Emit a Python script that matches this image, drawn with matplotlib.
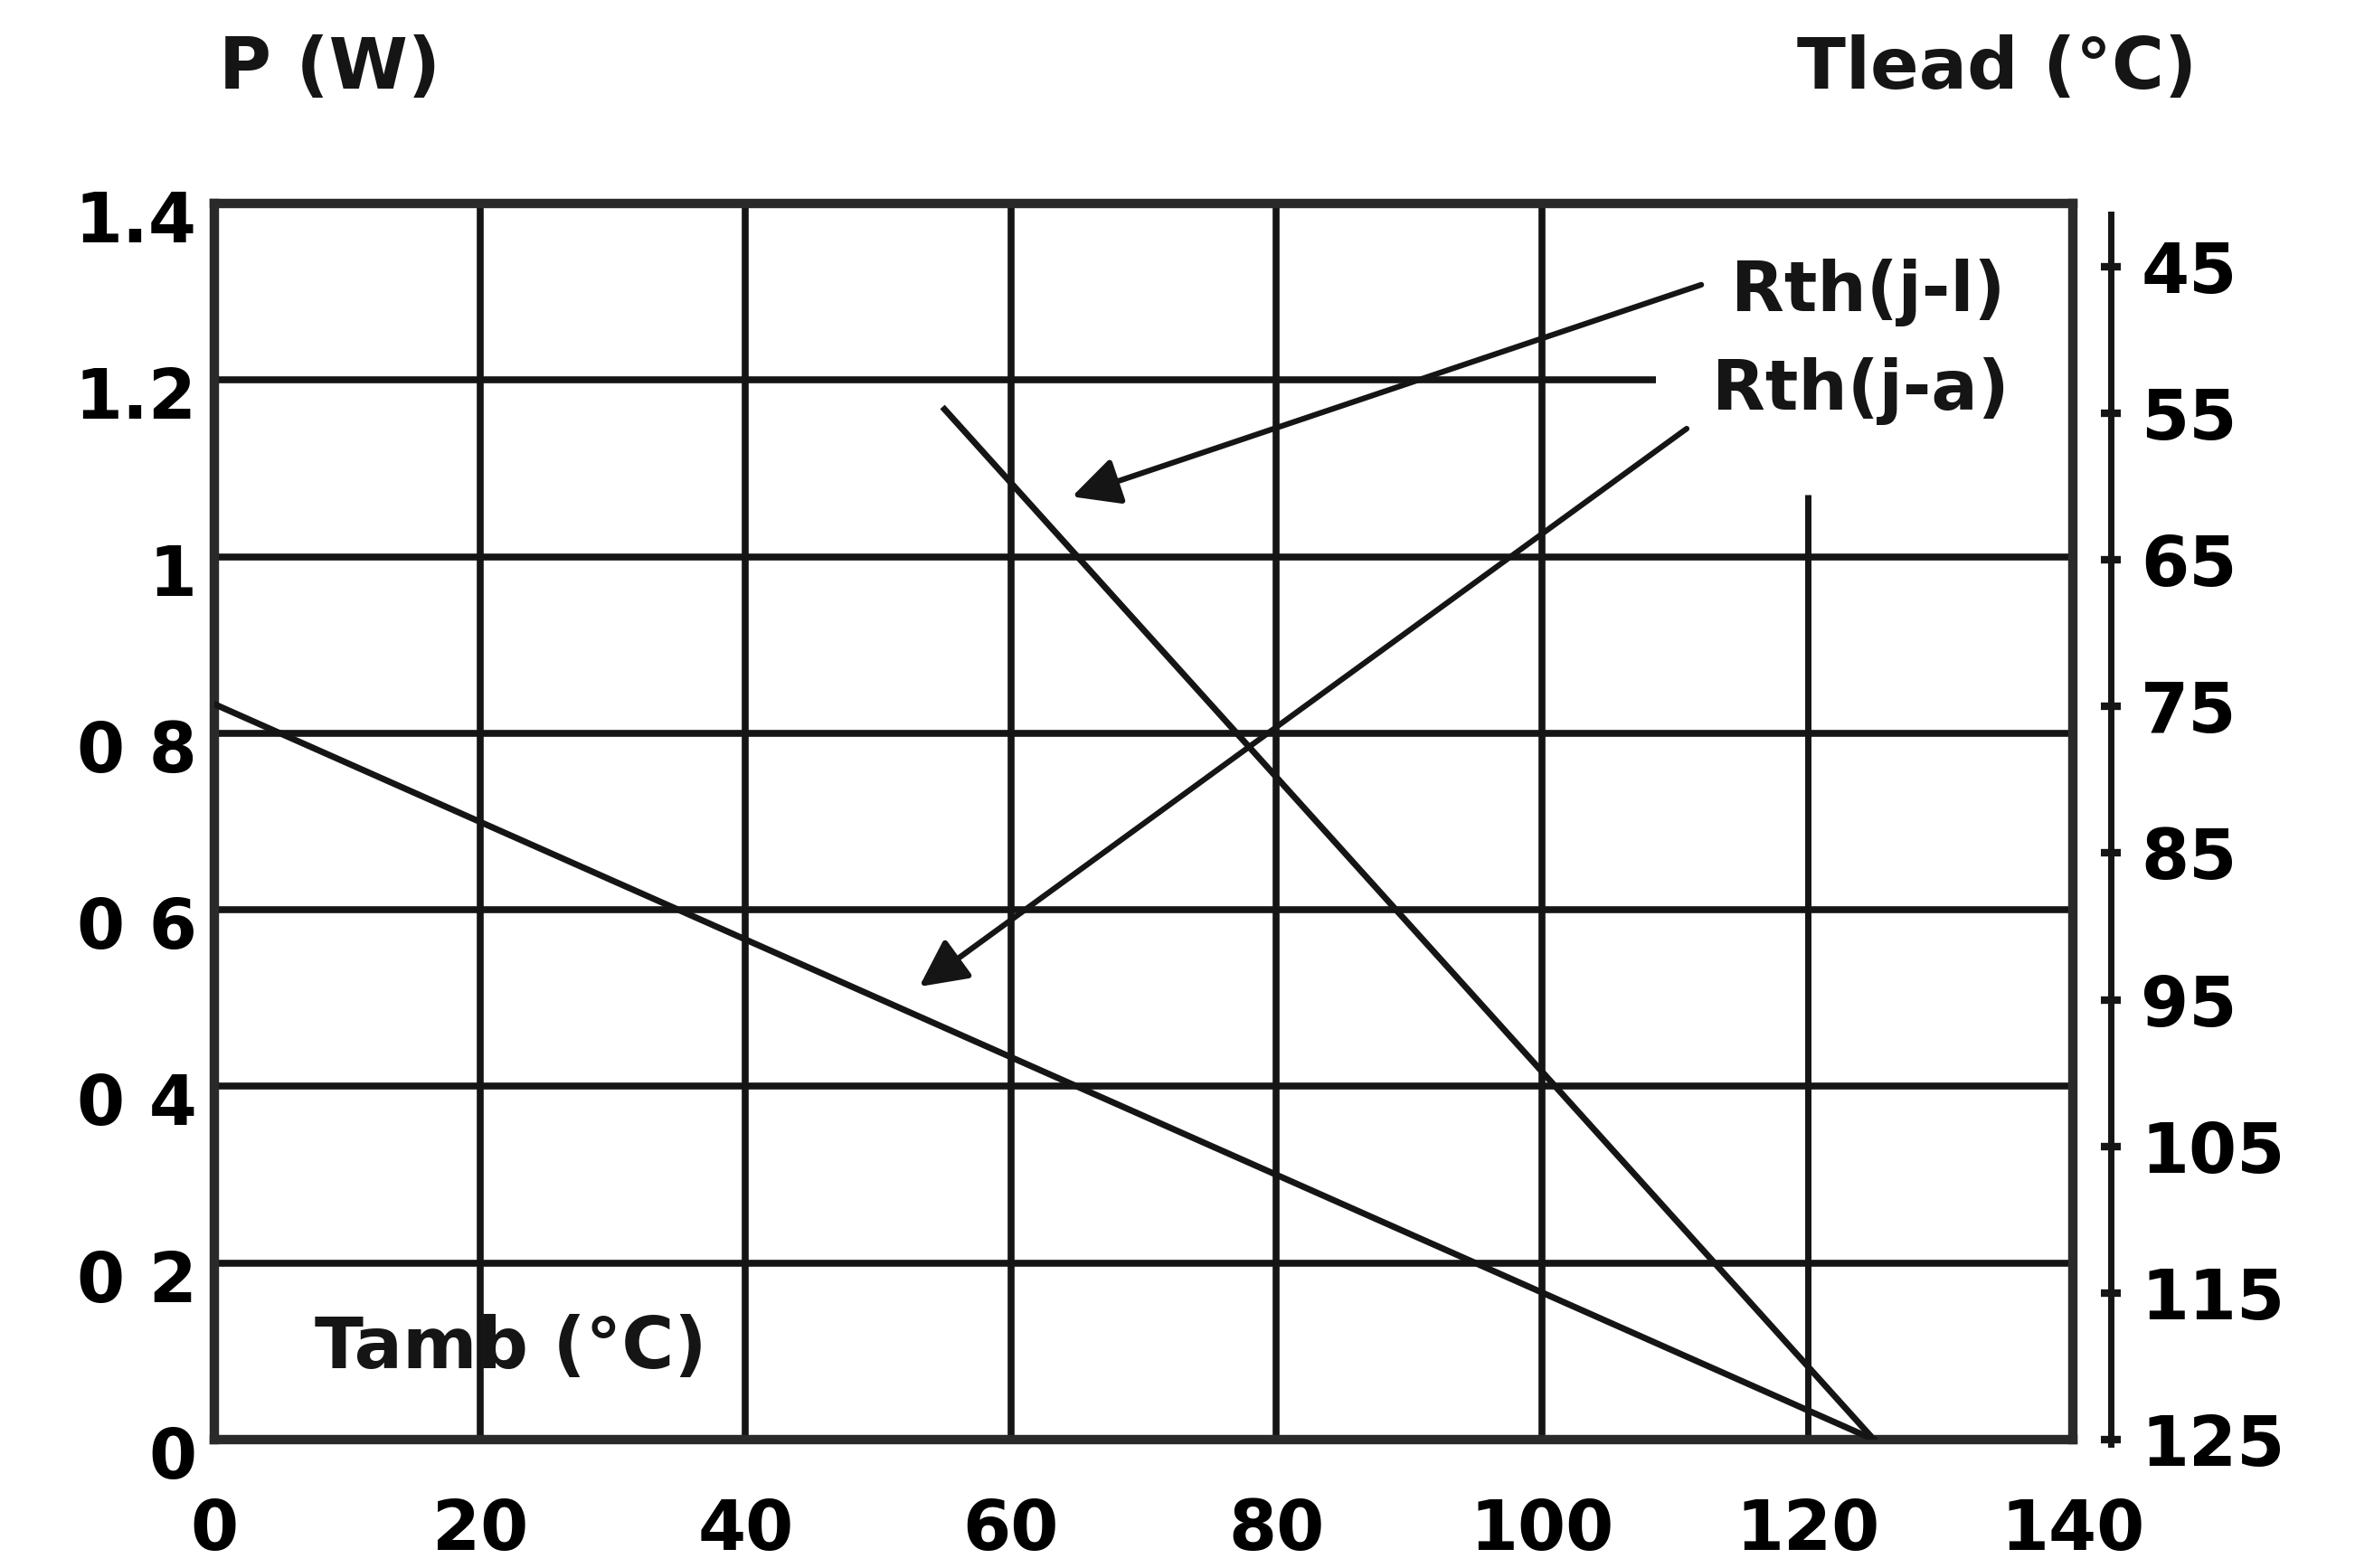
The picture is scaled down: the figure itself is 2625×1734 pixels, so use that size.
import matplotlib
matplotlib.use("Agg")
import matplotlib.pyplot as plt
from matplotlib.transforms import ScaledTranslation

# ---- data ----
tamb_ja = [0, 125]
p_ja = [0.833, 0.0]
tamb_jl = [55, 125]
p_jl = [1.167, 0.0]

x_ticks = [0, 20, 40, 60, 80, 100, 120, 140]
x_ticklabels = ["0", "20", "40", "60", "80", "100", "120", "140"]
y_ticks = [0, 0.2, 0.4, 0.6, 0.8, 1.0, 1.2, 1.4]
y_ticklabels = ["0", "0 2", "0 4", "0 6", "0 8", "1", "1.2", "1.4"]
tlead_ticks = [45, 55, 65, 75, 85, 95, 105, 115, 125]
tlead_labels = ["45", "55", "65", "75", "85", "95", "105", "115", "125"]

ink = "#151515"
FONT = ["DejaVu Sans"]
plt.rcParams["font.family"] = FONT
plt.rcParams["font.weight"] = "bold"
FS = 55

fig = plt.figure(figsize=(26.25, 17.34), dpi=100)
ax = fig.add_axes([0.0903, 0.0819, 0.7829, 0.7883])
ax.set_xlim(0, 140)
ax.set_ylim(0, 1.4)

# grid
for xv in [20, 40, 60, 80, 100]:
    ax.vlines(xv, 0, 1.4, color=ink, lw=5.5, zorder=1)
ax.vlines(120, 0, 1.07, color=ink, lw=5.0, zorder=1)
for yv in [0.2, 0.4, 0.6, 0.8, 1.0]:
    ax.hlines(yv, 0, 140, color=ink, lw=5.5, zorder=1)
ax.hlines(1.2, 0, 108.6, color=ink, lw=5.5, zorder=1)

# curves
ax.plot(tamb_ja, p_ja, color=ink, lw=5, zorder=3)
ax.plot(tamb_jl, p_jl, color=ink, lw=5, zorder=3)

for s in ax.spines.values():
    s.set_linewidth(7.5)
    s.set_color("#2a2a2a")

ax.set_xticks(x_ticks)
ax.set_xticklabels(x_ticklabels, fontsize=FS, fontweight="bold")
ax.set_yticks(y_ticks)
ax.set_yticklabels(y_ticklabels, fontsize=FS, fontweight="bold")
ax.tick_params(axis="x", length=0, pad=46)
ax.tick_params(axis="y", length=0, pad=14)
off = ScaledTranslation(0, -10 / 72, fig.dpi_scale_trans)
for lab in ax.get_yticklabels():
    lab.set_transform(lab.get_transform() + off)

# right Tlead scale
ax2 = ax.twinx()
ax2.set_ylim(124.49, 40.69)
for k in ["top", "left", "bottom"]:
    ax2.spines[k].set_visible(False)
ax2.spines["right"].set_position(("outward", 30))
ax2.spines["right"].set_linewidth(5)
ax2.spines["right"].set_color(ink)
ax2.spines["right"].set_bounds(41.4, 125.3)
ax2.set_yticks(tlead_ticks)
ax2.set_yticklabels(tlead_labels, fontsize=FS, fontweight="bold")
ax2.tick_params(axis="y", direction="inout", length=16, width=6, pad=16, color=ink)

# annotations
ax.annotate("", xy=(64.6, 1.068), xytext=(112, 1.308),
            arrowprops=dict(arrowstyle="-|>", lw=4.5, color=ink, mutation_scale=80,
                            shrinkA=0, shrinkB=0), zorder=4)
ax.annotate("", xy=(53.1, 0.513), xytext=(110.9, 1.145),
            arrowprops=dict(arrowstyle="-|>", lw=4.5, color=ink, mutation_scale=80,
                            shrinkA=0, shrinkB=0), zorder=4)
ax.text(124.6, 1.299, "Rth(j-l)", fontsize=FS, fontweight="bold", ha="center", va="center", color=ink)
ax.text(124.0, 1.188, "Rth(j-a)", fontsize=FS, fontweight="bold", ha="center", va="center", color=ink)
ax.text(22.3, 0.103, "Tamb (°C)", fontsize=57, fontweight="bold", ha="center", va="center", color=ink)

fig.text(0.1387, 0.956, "P (W)", fontsize=57, fontweight="bold", ha="center", va="center", color=ink)
fig.text(0.841, 0.956, "Tlead (°C)", fontsize=57, fontweight="bold", ha="center", va="center", color=ink)

fig.savefig("out.png", dpi=100, facecolor="white")
